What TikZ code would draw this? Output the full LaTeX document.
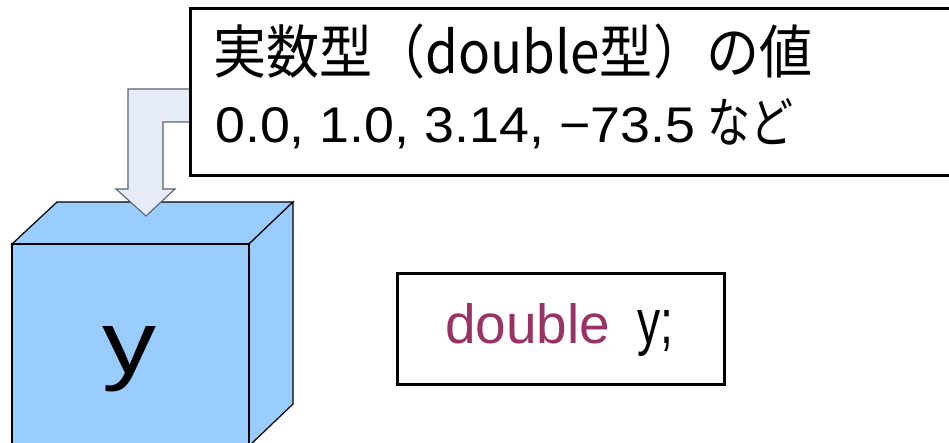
\documentclass[tikz,border=0pt]{standalone}
\usepackage{fontspec}
\usepackage{graphicx}
\setmainfont{Liberation Sans}
\newfontfamily\jpfont{Noto Sans CJK JP}
\definecolor{cubeblue}{RGB}{153,204,255}
\definecolor{arrowfill}{RGB}{230,236,247}
\definecolor{arrowline}{RGB}{90,98,110}
\definecolor{kwcolor}{RGB}{153,51,102}
\begin{document}
\begin{tikzpicture}[x=1pt,y=-1pt,
  facestyle/.style={draw=black,line width=1.2pt,fill=cubeblue,line join=miter},
  boxstyle/.style={draw=black,line width=3pt,fill=white,rectangle,inner sep=0pt},
  txt/.style={inner sep=0pt,anchor=base west}]
\useasboundingbox (0,0) rectangle (949,443);
% cube
\coordinate (fTL) at (12,244);
\coordinate (fTR) at (249,244);
\coordinate (fBR) at (249,446);
\coordinate (fBL) at (12,446);
\coordinate (bTL) at (57,202);
\coordinate (bTR) at (293,202);
\coordinate (bBR) at (293,404);
\draw[facestyle] (fTL) -- (bTL) -- (bTR) -- (fTR) -- cycle;
\draw[facestyle] (fTR) -- (bTR) -- (bBR) -- (fBR) -- cycle;
\draw[facestyle] (fTL) rectangle (fBR);
\node[inner sep=0pt,anchor=base] (yvar) at (129,373) {\fontsize{92}{100}\selectfont\resizebox{54pt}{47pt}{y}};
% bent arrow
\draw[draw=arrowline,line width=1.1pt,fill=arrowfill,line join=miter]
  (192,89) -- (128,89) -- (128,189) -- (116,189) -- (146,216) -- (175,189) -- (163,189) -- (163,122) -- (192,122) -- cycle;
% callout box
\node[boxstyle,anchor=north west,minimum width=765pt,minimum height=167pt] (callout) at (189,7) {};
\node[txt] (line1) at (213,74) {\jpfont\fontsize{58}{64}\selectfont\resizebox{599pt}{\height}{実数型（double型）の値}};
\node[txt] (line2a) at (215,143) {\fontsize{49}{55}\selectfont\resizebox{480pt}{35pt}{0.0, 1.0, 3.14, −73.5}};
\node[txt] (line2b) at (707,143) {\jpfont\fontsize{54}{60}\selectfont\resizebox{86pt}{\height}{など}};
% code box
\node[boxstyle,anchor=north west,minimum width=327pt,minimum height=111pt] (code) at (396,272) {};
\node[txt] (kw) at (445,343) {\fontsize{55}{60}\selectfont\resizebox{165pt}{40pt}{\textcolor{kwcolor}{double}}};
\node[txt] (var) at (637,343) {\fontsize{55}{60}\selectfont\resizebox{36pt}{33pt}{y;}};
\end{tikzpicture}
\end{document}
